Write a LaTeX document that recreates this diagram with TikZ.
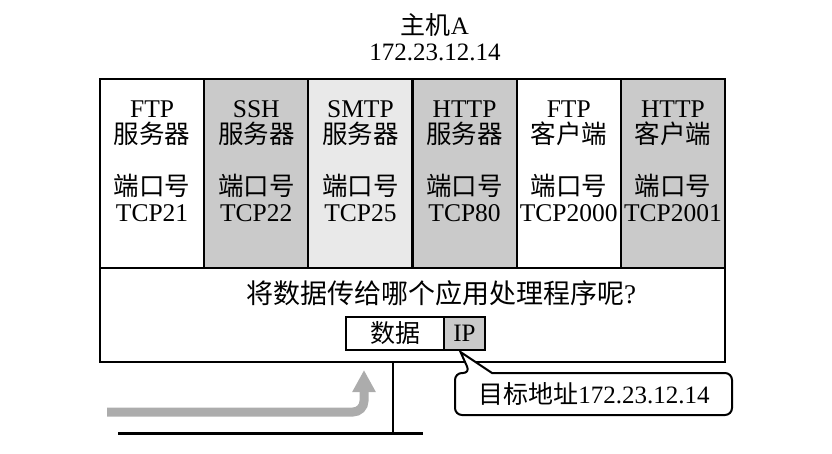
\documentclass[tikz,border=0pt]{standalone}
\usepackage{fontspec}
\setmainfont{Liberation Serif}
\newfontfamily\cjk{Noto Sans CJK SC}
\newcommand{\zh}[1]{{\cjk #1}}
\usepackage{tikz}
\usetikzlibrary{calc,arrows.meta,positioning}
\definecolor{portGray}{RGB}{202,202,202}
\definecolor{portLight}{RGB}{233,233,233}
\definecolor{flowGray}{RGB}{172,172,172}

\begin{document}
\begin{tikzpicture}[x=1pt,y=-1pt,
    portcol/.style={draw, line width=2.2pt, minimum width=104.17pt, minimum height=189pt, inner sep=0pt, outer sep=0pt},
    coltext/.style={align=center, inner sep=0pt, font=\fontsize{25.5}{26}\selectfont},
    pktbox/.style={draw, line width=2pt, minimum height=33pt, inner sep=0pt, outer sep=0pt, font=\fontsize{25}{25}\selectfont}]
    \useasboundingbox (0,0) rectangle (832,453);
    % host name and address
    \node[font=\fontsize{25}{25}\selectfont] (host) at (435,25) {\zh{主机}A};
    \node[font=\fontsize{25}{25}\selectfont] (hostip) at (435,52) {172.23.12.14};
    % lower part of the host
    \node[draw, line width=2.2pt, minimum width=625pt, minimum height=94pt, outer sep=0pt] (stack) at (412.5,315) {};
    % application columns
    \node[portcol] (ftpsrv) at (152.08,173.5) {};
    \node[portcol, fill=portGray] (sshsrv) at (256.25,173.5) {};
    \node[portcol, fill=portLight] (smtpsrv) at (360.42,173.5) {};
    \node[portcol, fill=portGray] (httpsrv) at (464.58,173.5) {};
    \node[portcol] (ftpcli) at (568.75,173.5) {};
    \node[portcol, fill=portGray] (httpcli) at (672.92,173.5) {};
    \node[coltext] (ftpsrvtxt) at (152.08,161) {FTP\\\zh{服务器}\\ \\\zh{端口号}\\TCP21};
    \node[coltext] (sshsrvtxt) at (256.25,161) {SSH\\\zh{服务器}\\ \\\zh{端口号}\\TCP22};
    \node[coltext] (smtpsrvtxt) at (360.42,161) {SMTP\\\zh{服务器}\\ \\\zh{端口号}\\TCP25};
    \node[coltext] (httpsrvtxt) at (464.58,161) {HTTP\\\zh{服务器}\\ \\\zh{端口号}\\TCP80};
    \node[coltext] (ftpclitxt) at (568.75,161) {FTP\\\zh{客户端}\\ \\\zh{端口号}\\TCP2000};
    \node[coltext] (httpclitxt) at (672.92,161) {HTTP\\\zh{客户端}\\ \\\zh{端口号}\\TCP2001};
    % question and packet
    \node[font=\fontsize{27}{27}\selectfont] (question) at (441,293) {\zh{将数据传给哪个应用处理程序呢}?};
    \node[pktbox, minimum width=98pt] (payload) at (395,333.5) {\zh{数据}};
    \node[pktbox, minimum width=41pt, fill=portGray, right=0pt of payload] (ipheader) {IP};
    % network line and incoming flow
    \coordinate (lanL) at (118,433);
    \coordinate (lanR) at (423,433);
    \coordinate (tap) at (393,433);
    \draw[line width=3pt] (lanL) -- (lanR);
    \draw[line width=2.5pt] (stack.south -| tap) -- (tap);
    \draw[flowGray, line width=9pt, rounded corners=11pt, -{Triangle[width=22pt,length=22pt]}]
        (107,412) -- (364,412) -- (364,370);
    % callout with the destination address
    \coordinate (tip) at ($(ipheader.south)+(-4,2)$);
    \draw[line width=2pt, fill=white, rounded corners=7pt]
        (455,394) -- (455,373) -- (470,373) [sharp corners] -- (tip) -- (492,373)
        [rounded corners=7pt] -- (732,373) -- (732,415) -- (455,415) -- cycle;
    \node[font=\fontsize{25}{25}\selectfont] (target) at (594,394) {\zh{目标地址}172.23.12.14};
\end{tikzpicture}
\end{document}
